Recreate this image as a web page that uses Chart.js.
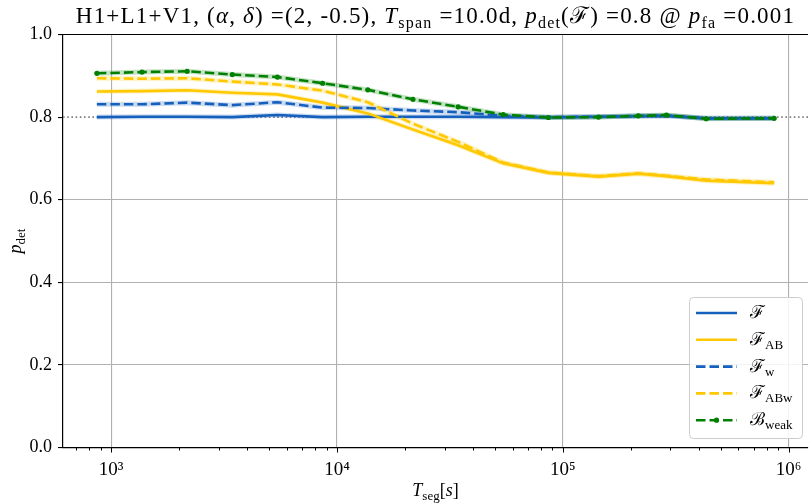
<!DOCTYPE html>
<html>
<head>
<meta charset="utf-8">
<script src="https://cdn.jsdelivr.net/npm/chart.js@4"></script>
<style>
  html, body { margin: 0; padding: 0; background: #fff; overflow: hidden; }
  #wrap { position: relative; width: 812px; height: 503px; }
</style>
</head>
<body>
<div id="wrap"><canvas id="pdetChart"></canvas></div>
<script>
// segment durations [s] for a 10 day span
const tSeg = [864, 1369, 2170, 3439, 5450, 8640, 13694, 21703, 34397, 54515,
              86400, 144000, 216000, 288000, 432000, 864000];

// detection probabilities per statistic
const pF     = [0.800, 0.801, 0.801, 0.800, 0.805, 0.800, 0.801, 0.801, 0.801, 0.800,
                0.799, 0.801, 0.802, 0.803, 0.797, 0.797];
const pFab   = [0.862, 0.863, 0.865, 0.859, 0.855, 0.835, 0.809, 0.770, 0.732, 0.688,
                0.665, 0.656, 0.663, 0.657, 0.646, 0.640];
const pFw    = [0.831, 0.831, 0.835, 0.829, 0.836, 0.823, 0.822, 0.816, 0.812, 0.803,
                0.800, 0.801, 0.803, 0.804, 0.797, 0.797];
const pFabw  = [0.894, 0.893, 0.894, 0.886, 0.879, 0.864, 0.836, 0.784, 0.740, 0.690,
                0.666, 0.657, 0.664, 0.658, 0.649, 0.642];
const pBweak = [0.906, 0.909, 0.911, 0.903, 0.897, 0.882, 0.866, 0.843, 0.825, 0.806,
                0.799, 0.800, 0.803, 0.805, 0.796, 0.797];

const pTarget = 0.8;
const xMajors = [1e3, 1e4, 1e5, 1e6];
const xMajorLabels = ['10³', '10⁴', '10⁵', '10⁶'];
const yTicks = [0, 0.2, 0.4, 0.6, 0.8, 1.0];

const BLUE = '#1560bd';
const GOLD = '#ffc800';
const GREEN = '#008000';
const SERIF = '"Liberation Serif", "DejaVu Serif", serif';

// rich text: [text, kind] with kind rm | it | sub
function partFont(kind, size) {
  if (kind === 'it') return 'italic ' + size + 'px ' + SERIF;
  if (kind === 'sub') return Math.round(size * 0.7) + 'px ' + SERIF;
  return size + 'px ' + SERIF;
}
function richWidth(ctx, parts, size) {
  let w = 0;
  parts.forEach(([t, k]) => { ctx.font = partFont(k, size); w += ctx.measureText(t).width; });
  return w;
}
function drawRich(ctx, parts, x, y, size, align, spacing) {
  ctx.save();
  ctx.letterSpacing = (spacing || 0) + 'px';
  const w = richWidth(ctx, parts, size);
  let cx = align === 'center' ? x - w / 2 : x;
  ctx.fillStyle = '#000';
  ctx.textAlign = 'left';
  ctx.textBaseline = 'alphabetic';
  parts.forEach(([t, k]) => {
    ctx.font = partFont(k, size);
    ctx.fillText(t, cx, k === 'sub' ? y + size * 0.22 : y);
    cx += ctx.measureText(t).width;
  });
  ctx.restore();
}

const titleParts = [
  ['H1+L1+V1, (', 'rm'], ['α', 'it'], [', ', 'rm'], ['δ', 'it'], [') =(2, -0.5), ', 'rm'],
  ['T', 'it'], ['span', 'sub'], [' =10.0d, ', 'rm'],
  ['p', 'it'], ['det', 'sub'], ['(ℱ) =0.8 @ ', 'rm'], ['p', 'it'], ['fa', 'sub'], [' =0.001', 'rm']
];
const xTitleParts = [['T', 'it'], ['seg', 'sub'], ['[', 'rm'], ['s', 'it'], [']', 'rm']];
const yTitleParts = [['p', 'it'], ['det', 'sub']];

function pts(arr) { return tSeg.map((t, i) => ({ x: t, y: arr[i] })); }
function fade(hex, a) {
  const n = parseInt(hex.slice(1), 16);
  return 'rgba(' + (n >> 16) + ',' + ((n >> 8) & 255) + ',' + (n & 255) + ',' + a + ')';
}

const series = [
  { label: [['ℱ', 'rm']], data: pF, color: BLUE, dash: [], dot: false },
  { label: [['ℱ', 'rm'], ['AB', 'sub']], data: pFab, color: GOLD, dash: [], dot: false },
  { label: [['ℱ', 'rm'], ['w', 'sub']], data: pFw, color: BLUE, dash: [9.5, 4], dot: false },
  { label: [['ℱ', 'rm'], ['ABw', 'sub']], data: pFabw, color: GOLD, dash: [9.5, 4], dot: false },
  { label: [['ℬ', 'rm'], ['weak', 'sub']], data: pBweak, color: GREEN, dash: [9.5, 4], dot: true }
];

const datasets = [];
series.forEach((s, i) => {
  // faint halo under each curve
  datasets.push({
    data: pts(s.data), borderColor: fade(s.color, 0.22), borderWidth: 5,
    pointRadius: 0, fill: false, tension: 0, order: 20 + (4 - i)
  });
  datasets.push({
    data: pts(s.data), borderColor: s.color, borderWidth: 2.6, borderDash: s.dash,
    pointRadius: s.dot ? 2.6 : 0, pointBackgroundColor: s.color, pointBorderWidth: 0,
    fill: false, tension: 0, order: 4 - i
  });
});

const decorations = {
  id: 'decorations',
  beforeDatasetsDraw(chart) {
    const { ctx, chartArea: a, scales: { y } } = chart;
    const py = y.getPixelForValue(pTarget);
    ctx.save();
    ctx.strokeStyle = '#808080';
    ctx.lineWidth = 1.6;
    ctx.setLineDash([1.6, 2.6]);
    ctx.beginPath();
    ctx.moveTo(a.left, py);
    ctx.lineTo(a.right, py);
    ctx.stroke();
    ctx.restore();
  },
  afterDraw(chart) {
    const { ctx, chartArea: a, scales: { x } } = chart;
    ctx.save();
    // top spine
    ctx.strokeStyle = '#000';
    ctx.lineWidth = 1.2;
    ctx.beginPath();
    ctx.moveTo(a.left, a.top);
    ctx.lineTo(a.right, a.top);
    ctx.stroke();
    // x tick marks, major and minor
    ctx.lineWidth = 1;
    x.ticks.forEach(t => {
      const px = Math.round(x.getPixelForValue(t.value)) + 0.5;
      const len = xMajors.includes(t.value) ? 5 : 3;
      ctx.beginPath();
      ctx.moveTo(px, a.bottom);
      ctx.lineTo(px, a.bottom + len);
      ctx.stroke();
    });
    ctx.restore();

    // titles
    drawRich(ctx, titleParts, (a.left + a.right) / 2, 23, 23, 'center', 1.2);
    drawRich(ctx, xTitleParts, (a.left + a.right) / 2, 496, 18, 'center');
    ctx.save();
    ctx.translate(21, (a.top + a.bottom) / 2);
    ctx.rotate(-Math.PI / 2);
    drawRich(ctx, yTitleParts, 0, 0, 18, 'center');
    ctx.restore();

    // legend
    const bx = 689, by = 297, bw = 113, bh = 141;
    ctx.save();
    ctx.fillStyle = 'rgba(255,255,255,0.85)';
    ctx.strokeStyle = '#cccccc';
    ctx.lineWidth = 1;
    ctx.beginPath();
    ctx.roundRect(bx + 0.5, by + 0.5, bw, bh, 4);
    ctx.fill();
    ctx.stroke();
    series.forEach((s, i) => {
      const ly = 313 + i * 26.8;
      ctx.strokeStyle = s.color;
      ctx.lineWidth = 2.6;
      ctx.setLineDash(s.dash);
      ctx.beginPath();
      ctx.moveTo(696, ly);
      ctx.lineTo(737, ly);
      ctx.stroke();
      if (s.dot) {
        ctx.fillStyle = s.color;
        ctx.beginPath();
        ctx.arc(716.5, ly, 2.6, 0, Math.PI * 2);
        ctx.fill();
      }
      ctx.setLineDash([]);
      drawRich(ctx, s.label, 750, ly + 5, 18, 'left');
    });
    ctx.restore();
  }
};

new Chart(document.getElementById('pdetChart'), {
  type: 'line',
  data: { datasets },
  plugins: [decorations],
  options: {
    responsive: true,
    maintainAspectRatio: false,
    animation: false,
    events: [],
    layout: { padding: { top: 34.5, left: 0, right: 0, bottom: 0 } },
    plugins: { legend: { display: false }, title: { display: false }, tooltip: { enabled: false } },
    scales: {
      x: {
        type: 'logarithmic',
        min: 611.7,
        max: 1.22e6,
        afterFit: s => { s.height = 55.5; },
        afterBuildTicks: s => {
          const ticks = [];
          for (let e = 2; e <= 6; e++) {
            for (let m = 1; m <= 9; m++) {
              const v = m * Math.pow(10, e);
              if (v >= s.min && v <= s.max) ticks.push({ value: v });
            }
          }
          s.ticks = ticks;
        },
        ticks: {
          autoSkip: false, maxRotation: 0, padding: 6, color: '#000',
          font: { family: SERIF, size: 19 },
          callback: v => { const i = xMajors.indexOf(v); return i >= 0 ? xMajorLabels[i] : ''; }
        },
        grid: {
          color: c => (c.tick && xMajors.includes(c.tick.value)) ? '#b0b0b0' : 'rgba(0,0,0,0)',
          lineWidth: 1.1, tickLength: 5, tickColor: 'rgba(0,0,0,0)'
        },
        border: { color: '#000', width: 1.2 }
      },
      y: {
        min: 0,
        max: 1,
        afterFit: s => { s.width = 63; },
        afterBuildTicks: s => { s.ticks = yTicks.map(v => ({ value: v })); },
        ticks: {
          padding: 6, color: '#000', font: { family: SERIF, size: 18 },
          callback: v => v.toFixed(1)
        },
        grid: {
          color: c => (c.tick && Math.abs(c.tick.value - pTarget) < 1e-6) ? 'rgba(0,0,0,0)' : '#b0b0b0',
          lineWidth: 1.1, tickLength: 5, tickColor: '#000'
        },
        border: { color: '#000', width: 1.2 }
      }
    }
  }
});
</script>
</body>
</html>
